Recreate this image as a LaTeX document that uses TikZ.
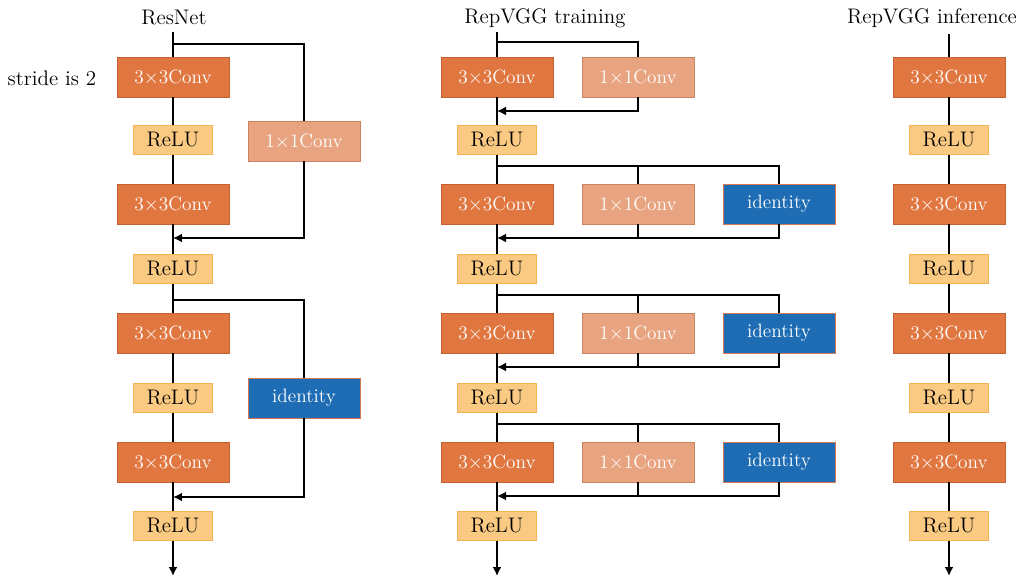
\documentclass[tikz,border=0pt]{standalone}
\usepackage{tikz}
\usetikzlibrary{arrows.meta}

\definecolor{convc}{RGB}{224,119,64}
\definecolor{convd}{RGB}{196,96,50}
\definecolor{pwc}{RGB}{232,164,128}
\definecolor{pwd}{RGB}{205,130,95}
\definecolor{idc}{RGB}{30,108,180}
\definecolor{idd}{RGB}{215,120,80}
\definecolor{reluc}{RGB}{250,202,130}
\definecolor{relud}{RGB}{246,178,80}

\begin{document}
\begin{tikzpicture}[x=0.02cm, y=-0.02cm, line width=1.4pt,
    box/.style={draw, rectangle, line width=0.5pt, inner sep=0pt, font=\fontsize{12}{14}\selectfont},
    conv/.style={box, fill=convc, draw=convd, text=white, minimum width=2.24cm, minimum height=0.8cm, font=\fontsize{11}{13}\selectfont},
    pw/.style={conv, fill=pwc, draw=pwd},
    iden/.style={conv, fill=idc, draw=idd},
    relu/.style={box, fill=reluc, draw=relud, minimum width=1.58cm, minimum height=0.58cm},
    title/.style={font=\fontsize{12}{14}\selectfont},
    arr/.style={-{Latex[length=1.8mm, width=1.8mm]}}]
  \useasboundingbox (0,0) rectangle (1019,578);

  % ResNet
  \node (Rt) [title] at (174,18) {ResNet};
  \node (Rs) [title] at (52,78) {stride is 2};
  \node (Rc1) [conv] at (173,77) {3$\times$3Conv};
  \node (Rr1) [relu] at (173,140) {ReLU};
  \node (Rc2) [conv] at (173,204) {3$\times$3Conv};
  \node (Rr2) [relu] at (173,269) {ReLU};
  \node (Rc3) [conv] at (173,333) {3$\times$3Conv};
  \node (Rr3) [relu] at (173,398) {ReLU};
  \node (Rc4) [conv] at (173,462) {3$\times$3Conv};
  \node (Rr4) [relu] at (173,526) {ReLU};
  \node (Rp) [pw] at (304,141) {1$\times$1Conv};
  \node (Ri) [iden] at (304,398) {identity};
  \coordinate (Rin) at (173,32);
  \coordinate (Rout) at (173,576);
  \coordinate (Rs1) at (173,44);
  \coordinate (Rm1) at (173,238);
  \coordinate (Rs2) at (173,300);
  \coordinate (Rm2) at (173,497);

  \draw (Rin) -- (Rc1);
  \draw (Rc1) -- (Rr1);
  \draw (Rr1) -- (Rc2);
  \draw (Rc2) -- (Rr2);
  \draw (Rr2) -- (Rc3);
  \draw (Rc3) -- (Rr3);
  \draw (Rr3) -- (Rc4);
  \draw (Rc4) -- (Rr4);
  \draw [arr] (Rr4) -- (Rout);
  \draw (Rs1) -| (Rp.north);
  \draw [arr] (Rp.south) |- (Rm1);
  \draw (Rs2) -| (Ri.north);
  \draw [arr] (Ri.south) |- (Rm2);

  % RepVGG training
  \node (Tt) [title] at (545,18) {RepVGG training};
  \node (Tc1) [conv] at (497,77) {3$\times$3Conv};
  \node (Tp1) [pw] at (638,77) {1$\times$1Conv};
  \node (Tr1) [relu] at (497,140) {ReLU};
  \node (Tc2) [conv] at (497,204) {3$\times$3Conv};
  \node (Tp2) [pw] at (638,204) {1$\times$1Conv};
  \node (Ti2) [iden] at (779,204) {identity};
  \node (Tr2) [relu] at (497,269) {ReLU};
  \node (Tc3) [conv] at (497,333) {3$\times$3Conv};
  \node (Tp3) [pw] at (638,333) {1$\times$1Conv};
  \node (Ti3) [iden] at (779,333) {identity};
  \node (Tr3) [relu] at (497,398) {ReLU};
  \node (Tc4) [conv] at (497,462) {3$\times$3Conv};
  \node (Tp4) [pw] at (638,462) {1$\times$1Conv};
  \node (Ti4) [iden] at (779,462) {identity};
  \node (Tr4) [relu] at (497,526) {ReLU};
  \coordinate (Tin) at (497,32);
  \coordinate (Tout) at (497,576);
  \coordinate (Ts1) at (497,42);
  \coordinate (Tm1) at (497,111);
  \coordinate (Ts2) at (497,166);
  \coordinate (Tm2) at (497,238);
  \coordinate (Ts3) at (497,295);
  \coordinate (Tm3) at (497,367);
  \coordinate (Ts4) at (497,424);
  \coordinate (Tm4) at (497,496);

  \draw (Tin) -- (Tc1);
  \draw (Tc1) -- (Tr1);
  \draw (Tr1) -- (Tc2);
  \draw (Tc2) -- (Tr2);
  \draw (Tr2) -- (Tc3);
  \draw (Tc3) -- (Tr3);
  \draw (Tr3) -- (Tc4);
  \draw (Tc4) -- (Tr4);
  \draw [arr] (Tr4) -- (Tout);
  \draw (Ts1) -| (Tp1.north);
  \draw [arr] (Tp1.south) |- (Tm1);
  \draw (Ts2) -| (Ti2.north);
  \draw (Tp2.north) -- (Tp2.north |- Ts2);
  \draw [arr] (Ti2.south) |- (Tm2);
  \draw (Tp2.south) -- (Tp2.south |- Tm2);
  \draw (Ts3) -| (Ti3.north);
  \draw (Tp3.north) -- (Tp3.north |- Ts3);
  \draw [arr] (Ti3.south) |- (Tm3);
  \draw (Tp3.south) -- (Tp3.south |- Tm3);
  \draw (Ts4) -| (Ti4.north);
  \draw (Tp4.north) -- (Tp4.north |- Ts4);
  \draw [arr] (Ti4.south) |- (Tm4);
  \draw (Tp4.south) -- (Tp4.south |- Tm4);

  % RepVGG inference
  \node (It) [title] at (932,18) {RepVGG inference};
  \node (Ic1) [conv] at (949,77) {3$\times$3Conv};
  \node (Ir1) [relu] at (949,140) {ReLU};
  \node (Ic2) [conv] at (949,204) {3$\times$3Conv};
  \node (Ir2) [relu] at (949,269) {ReLU};
  \node (Ic3) [conv] at (949,333) {3$\times$3Conv};
  \node (Ir3) [relu] at (949,398) {ReLU};
  \node (Ic4) [conv] at (949,462) {3$\times$3Conv};
  \node (Ir4) [relu] at (949,526) {ReLU};
  \coordinate (Iin) at (949,34);
  \coordinate (Iout) at (949,576);

  \draw (Iin) -- (Ic1);
  \draw (Ic1) -- (Ir1);
  \draw (Ir1) -- (Ic2);
  \draw (Ic2) -- (Ir2);
  \draw (Ir2) -- (Ic3);
  \draw (Ic3) -- (Ir3);
  \draw (Ir3) -- (Ic4);
  \draw (Ic4) -- (Ir4);
  \draw [arr] (Ir4) -- (Iout);
\end{tikzpicture}
\end{document}
